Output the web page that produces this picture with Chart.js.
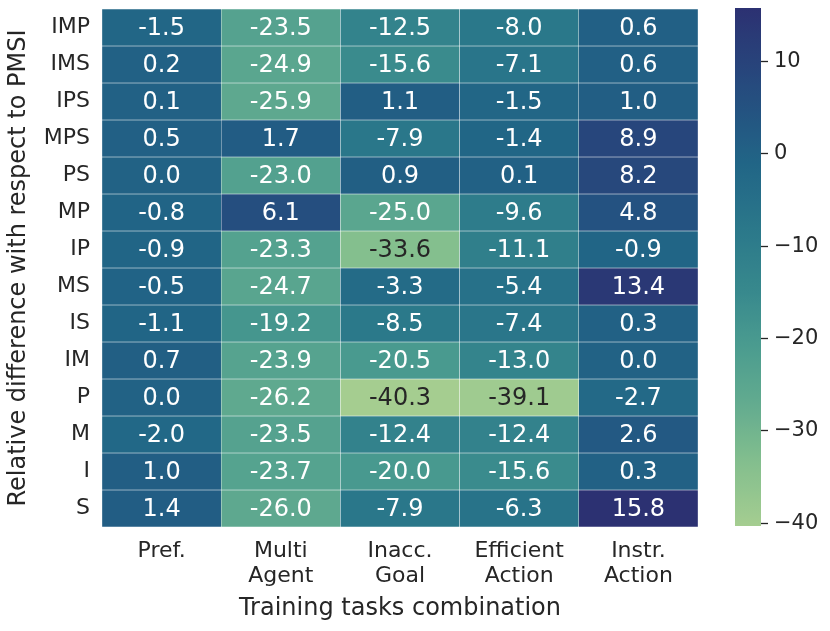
<!DOCTYPE html>
<html>
<head>
<meta charset="utf-8">
<script src="https://cdn.jsdelivr.net/npm/chart.js@4/dist/chart.umd.min.js"></script>
<style>
  html, body { margin: 0; padding: 0; background: #ffffff; }
  #wrap { position: relative; width: 830px; height: 631px; }
  #wrap canvas { position: absolute; left: 0; top: 0; }
</style>
</head>
<body>
<div id="wrap">
  <canvas id="main" width="830" height="631"></canvas>
  <canvas id="cbar" width="830" height="631"></canvas>
</div>
<script>
// ---- data ----
const rowLabels = ['IMP','IMS','IPS','MPS','PS','MP','IP','MS','IS','IM','P','M','I','S'];
const colLabels = ['Pref.', ['Multi','Agent'], ['Inacc.','Goal'], ['Efficient','Action'], ['Instr.','Action']];
const prefValues   = [-1.5, 0.2, 0.1, 0.5, 0.0, -0.8, -0.9, -0.5, -1.1, 0.7, 0.0, -2.0, 1.0, 1.4];
const multiValues  = [-23.5, -24.9, -25.9, 1.7, -23.0, 6.1, -23.3, -24.7, -19.2, -23.9, -26.2, -23.5, -23.7, -26.0];
const inaccValues  = [-12.5, -15.6, 1.1, -7.9, 0.9, -25.0, -33.6, -3.3, -8.5, -20.5, -40.3, -12.4, -20.0, -7.9];
const effValues    = [-8.0, -7.1, -1.5, -1.4, 0.1, -9.6, -11.1, -5.4, -7.4, -13.0, -39.1, -12.4, -15.6, -6.3];
const instrValues  = [0.6, 0.6, 1.0, 8.9, 8.2, 4.8, -0.9, 13.4, 0.3, 0.0, -2.7, 2.6, 0.3, 15.8];
const colorbarTicks = [-40, -30, -20, -10, 0, 10];
const vMin = -40.3, vMax = 15.8;

const columns = [prefValues, multiValues, inaccValues, effValues, instrValues];

// ---- colormap (crest-like) ----
const cmapStops = [
  [0.00, [165, 205, 144]],
  [0.12, [132, 191, 142]],
  [0.25, [ 95, 169, 143]],
  [0.35, [ 74, 155, 143]],
  [0.45, [ 56, 137, 141]],
  [0.58, [ 42, 119, 138]],
  [0.70, [ 33, 101, 134]],
  [0.80, [ 36,  83, 129]],
  [0.90, [ 40,  66, 122]],
  [1.00, [ 44,  49, 114]]
];
function cmapRGB(t) {
  t = Math.max(0, Math.min(1, t));
  for (let i = 1; i < cmapStops.length; i++) {
    const [t1, c1] = cmapStops[i];
    const [t0, c0] = cmapStops[i - 1];
    if (t <= t1) {
      const f = (t - t0) / (t1 - t0);
      return c0.map((v, k) => Math.round(v + (c1[k] - v) * f));
    }
  }
  return cmapStops[cmapStops.length - 1][1];
}
function cmap(v) {
  const c = cmapRGB((v - vMin) / (vMax - vMin));
  return `rgb(${c[0]},${c[1]},${c[2]})`;
}
function textColorFor(v) {
  const c = cmapRGB((v - vMin) / (vMax - vMin)).map(x => {
    x /= 255;
    return x <= 0.03928 ? x / 12.92 : Math.pow((x + 0.055) / 1.055, 2.4);
  });
  const lum = 0.2126 * c[0] + 0.7152 * c[1] + 0.0722 * c[2];
  return lum > 0.408 ? '#262626' : '#ffffff';
}

const FONT = 'DejaVu Sans';
const TXT = '#262626';

function noLabelPadding(scale) {
  scale.paddingTop = 0;
  scale.paddingBottom = 0;
  scale.paddingLeft = 0;
  scale.paddingRight = 0;
}

// ---- main heatmap ----
const datasets = rowLabels.map((name, r) => ({
  label: name,
  data: columns.map(() => [r - 0.5, r + 0.5]),
  backgroundColor: columns.map(col => cmap(col[r])),
  borderColor: 'rgba(255,255,255,0.45)',
  borderWidth: 0.5,
  borderSkipped: false,
  grouped: false,
  barPercentage: 1,
  categoryPercentage: 1
}));

const annotatePlugin = {
  id: 'annotate',
  afterDatasetsDraw(chart) {
    const { ctx, scales: { x, y } } = chart;
    ctx.save();
    ctx.font = `24px "${FONT}"`;
    ctx.textAlign = 'center';
    ctx.textBaseline = 'middle';
    columns.forEach((col, c) => {
      col.forEach((v, r) => {
        ctx.fillStyle = textColorFor(v);
        ctx.fillText(v.toFixed(1), x.getPixelForValue(c), y.getPixelForValue(r) + 1);
      });
    });
    ctx.restore();
  }
};

new Chart(document.getElementById('main'), {
  type: 'bar',
  data: { labels: colLabels, datasets },
  options: {
    responsive: false,
    animation: false,
    layout: { padding: { top: 9, right: 132, left: 0, bottom: 0 } },
    plugins: { legend: { display: false }, tooltip: { enabled: false } },
    scales: {
      x: {
        type: 'category',
        grid: { display: false, drawTicks: false },
        border: { display: false },
        ticks: { color: TXT, font: { family: FONT, size: 22, lineHeight: 1.14 }, padding: 12, maxRotation: 0, autoSkip: false },
        title: { display: true, text: 'Training tasks combination', color: TXT, font: { family: FONT, size: 24 }, padding: { top: 0, bottom: 8 } },
        afterFit(scale) { scale.height = 631 - 527; noLabelPadding(scale); }
      },
      y: {
        type: 'linear',
        reverse: true,
        min: -0.5,
        max: 13.5,
        grid: { display: false, drawTicks: false },
        border: { display: false },
        afterBuildTicks(scale) { scale.ticks = rowLabels.map((_, i) => ({ value: i })); },
        ticks: {
          color: TXT, font: { family: FONT, size: 22 }, padding: 12, autoSkip: false,
          callback: (v) => rowLabels[v]
        },
        title: { display: true, text: 'Relative difference with respect to PMSI', color: TXT, font: { family: FONT, size: 24 }, padding: { top: 4, bottom: 0 } },
        afterFit(scale) { scale.width = 102; noLabelPadding(scale); }
      }
    }
  },
  plugins: [annotatePlugin]
});

// ---- colorbar ----
new Chart(document.getElementById('cbar'), {
  type: 'bar',
  data: {
    labels: ['cb'],
    datasets: [{
      data: [[vMin, vMax]],
      backgroundColor(context) {
        const { chart } = context;
        const area = chart.chartArea;
        if (!area) return 'rgba(0,0,0,0)';
        const g = chart.ctx.createLinearGradient(0, area.bottom, 0, area.top);
        for (let i = 0; i <= 40; i++) {
          const t = i / 40;
          const c = cmapRGB(t);
          g.addColorStop(t, `rgb(${c[0]},${c[1]},${c[2]})`);
        }
        return g;
      },
      borderWidth: 0,
      barPercentage: 1,
      categoryPercentage: 1
    }]
  },
  options: {
    responsive: false,
    animation: false,
    layout: { padding: { top: 8, right: 0, left: 735, bottom: 105 } },
    plugins: { legend: { display: false }, tooltip: { enabled: false } },
    scales: {
      x: { display: false },
      y: {
        type: 'linear',
        position: 'right',
        min: vMin,
        max: vMax,
        border: { display: false },
        grid: { drawOnChartArea: false, drawTicks: true, tickLength: 7, tickWidth: 1.3, color: TXT },
        afterBuildTicks(scale) { scale.ticks = colorbarTicks.map(v => ({ value: v })); },
        ticks: {
          color: TXT, font: { family: FONT, size: 21 }, padding: 6,
          callback: (v) => v < 0 ? '\u2212' + Math.abs(v) : String(v)
        },
        afterFit(scale) { scale.width = 830 - 761; noLabelPadding(scale); }
      }
    }
  }
});
</script>
</body>
</html>
